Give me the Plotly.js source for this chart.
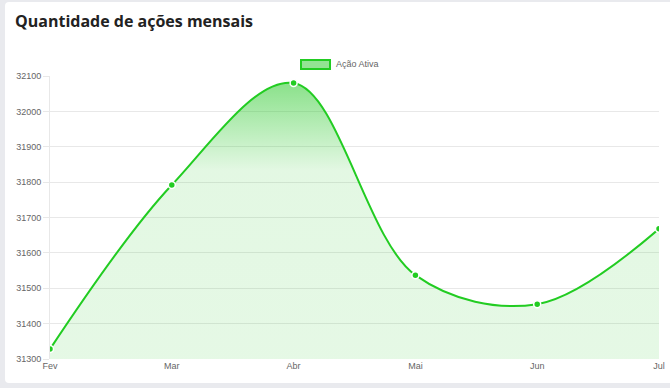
<!DOCTYPE html>
<html>
<head>
<meta charset="utf-8">
<script src="https://cdn.plot.ly/plotly-3.0.1.min.js"></script>
<style>
  html, body { margin: 0; padding: 0; background: #e9eaee; width: 670px; height: 388px; overflow: hidden; }
  #card { position: absolute; left: 5px; top: 2px; width: 690px; height: 381px; background: #ffffff; border-radius: 4px; }
  #chart { position: absolute; left: 0; top: 0; width: 670px; height: 388px; }
</style>
</head>
<body>
<div id="card"></div>
<div id="chart"></div>
<script>
const months = ['Fev', 'Mar', 'Abr', 'Mai', 'Jun', 'Jul'];
const acoesAtivas = [31328, 31792, 32080, 31537, 31455, 31668];
const yTicks = [31300, 31400, 31500, 31600, 31700, 31800, 31900, 32000, 32100];
const seriesName = 'Ação Ativa';
const chartTitle = 'Quantidade de ações mensais';

const green = 'rgb(34,204,34)';

const trace = {
  x: months,
  y: acoesAtivas,
  type: 'scatter',
  mode: 'lines+markers',
  name: seriesName,
  showlegend: false,
  line: { color: green, width: 2, shape: 'spline', smoothing: 1 },
  marker: { color: green, size: 7, line: { color: '#ffffff', width: 1.5 } },
  fill: 'tozeroy',
  fillgradient: {
    type: 'vertical',
    start: 31300,
    stop: 32085,
    colorscale: [
      [0, 'rgba(40,200,40,0.12)'],
      [0.68, 'rgba(40,200,40,0.13)'],
      [1, 'rgba(40,200,40,0.55)']
    ]
  },
  hoverinfo: 'x+y'
};

const tickFont = { family: 'Liberation Sans, Arial, sans-serif', size: 9, color: '#666666' };

const layout = {
  width: 670,
  height: 388,
  paper_bgcolor: 'rgba(0,0,0,0)',
  plot_bgcolor: 'rgba(0,0,0,0)',
  margin: { l: 50, r: 11, t: 76, b: 29 },
  showlegend: false,
  title: {
    text: chartTitle,
    xref: 'container',
    x: 15 / 670,
    xanchor: 'left',
    yref: 'container',
    y: 1 - 21 / 388,
    yanchor: 'middle',
    font: { family: 'Open Sans, sans-serif', size: 16, color: '#222222', weight: 700 }
  },
  xaxis: {
    type: 'category',
    range: [0, months.length - 1],
    showgrid: false,
    zeroline: false,
    showline: false,
    ticks: '',
    tickfont: tickFont,
    fixedrange: true
  },
  yaxis: {
    range: [31300, 32100],
    tickvals: yTicks,
    ticktext: yTicks.map(String),
    showgrid: true,
    gridcolor: '#e8e8e8',
    gridwidth: 1,
    zeroline: false,
    showline: true,
    linecolor: '#e8e8e8',
    linewidth: 1,
    ticks: 'outside',
    ticklen: 6,
    tickcolor: '#e8e8e8',
    tickfont: tickFont,
    fixedrange: true
  },
  shapes: [
    {
      type: 'rect', xref: 'paper', yref: 'paper',
      x0: (301 - 50) / 609, x1: (330 - 50) / 609,
      y0: (359 - 69) / 283, y1: (359 - 60) / 283,
      fillcolor: 'rgba(40,200,40,0.5)',
      line: { color: green, width: 2 }
    }
  ],
  annotations: [
    {
      text: seriesName, xref: 'paper', yref: 'paper',
      x: (334 - 50) / 609, xanchor: 'left',
      y: (359 - 64.5) / 283, yanchor: 'middle',
      showarrow: false,
      font: tickFont
    }
  ]
};

Plotly.newPlot('chart', [trace], layout, { displayModeBar: false, staticPlot: true });
</script>
</body>
</html>
